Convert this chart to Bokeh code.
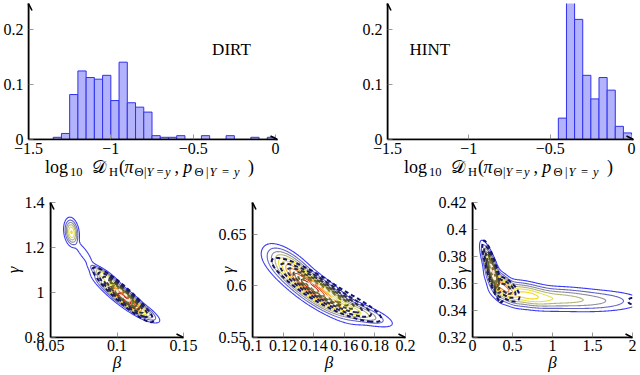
import numpy as np
from bokeh.plotting import figure
from bokeh.layouts import row, column
from bokeh.models import Range1d, FixedTicker, Label, Arrow, OpenHead, Div
from bokeh.embed import file_html
from bokeh.resources import INLINE

SERIF = "Liberation Serif"

# ---------------- histogram data ----------------
bin_width = 0.05
dirt_bin_left = [-1.35, -1.30, -1.25, -1.20, -1.15, -1.10, -1.05, -1.00, -0.95,
                 -0.90, -0.85, -0.80, -0.75, -0.70, -0.65, -0.60, -0.55, -0.50,
                 -0.45, -0.40, -0.35, -0.30, -0.25, -0.20, -0.15, -0.10, -0.05]
dirt_freq = [0.004, 0.011, 0.082, 0.125, 0.113, 0.110, 0.117, 0.071, 0.141,
             0.067, 0.059, 0.050, 0.007, 0.004, 0.004, 0.007, 0.0, 0.0,
             0.007, 0.0, 0.0, 0.007, 0.0, 0.0, 0.004, 0.0, 0.004]
hint_bin_left = [-0.45, -0.40, -0.35, -0.30, -0.25, -0.20, -0.15, -0.10, -0.05]
hint_freq = [0.039, 0.300, 0.219, 0.117, 0.074, 0.113, 0.090, 0.024, 0.012]

hist_xrange = (-1.5, 0.012)
hist_yrange = (0.0, 0.248)
hist_xticks = [-1.5, -1.0, -0.5, 0.0]
hist_xlabels = ["\u22121.5", "\u22121", "\u22120.5", "0"]
hist_yticks = [0.0, 0.1, 0.2]
hist_ylabels = ["0", "0.1", "0.2"]

# ---------------- contour panels ----------------
p1_xrange = (0.05, 0.15)
p1_yrange = (0.8, 1.4)
p1_xticks = [0.05, 0.10, 0.15]
p1_xlabels = ["0.05", "0.1", "0.15"]
p1_yticks = [0.8, 1.0, 1.2, 1.4]
p1_ylabels = ["0.8", "1", "1.2", "1.4"]

p2_xrange = (0.1, 0.2)
p2_yrange = (0.55, 0.681)
p2_xticks = [0.10, 0.12, 0.14, 0.16, 0.18, 0.20]
p2_xlabels = ["0.1", "0.12", "0.14", "0.16", "0.18", "0.2"]
p2_yticks = [0.55, 0.60, 0.65]
p2_ylabels = ["0.55", "0.6", "0.65"]

p3_xrange = (0.0, 2.0)
p3_yrange = (0.32, 0.42)
p3_xticks = [0.0, 0.5, 1.0, 1.5, 2.0]
p3_xlabels = ["0", "0.5", "1", "1.5", "2"]
p3_yticks = [0.32, 0.34, 0.36, 0.38, 0.40, 0.42]
p3_ylabels = ["0.32", "0.34", "0.36", "0.38", "0.4", "0.42"]

# density components:
# (weight, beta_mean, gamma_mean, beta_sd, gamma_sd, correlation)
p1_exact = [
    (0.45, 0.0658, 1.268, 0.0024, 0.027, -0.2),
    (0.05, 0.0750, 1.175, 0.0045, 0.035, -0.85),
    (0.40, 0.0905, 1.075, 0.0050, 0.022, -0.85),
    (1.00, 0.1035, 0.985, 0.0085, 0.040, -0.90),
    (0.40, 0.1160, 0.930, 0.0065, 0.025, -0.85),
]
p1_approx = [
    (1.00, 0.1045, 0.990, 0.0090, 0.048, -0.93),
]
p2_exact = [
    (1.00, 0.139, 0.598, 0.0115, 0.0125, -0.85),
    (0.40, 0.125, 0.619, 0.0070, 0.0090, -0.7),
    (0.35, 0.164, 0.577, 0.0115, 0.0070, -0.8),
]
p2_approx = [
    (1.00, 0.141, 0.600, 0.0115, 0.011, -0.88),
    (0.50, 0.158, 0.585, 0.0120, 0.009, -0.85),
]
p3_exact = [
    (1.00, 0.24, 0.370, 0.055, 0.0080, -0.8),
    (0.70, 0.38, 0.358, 0.090, 0.0055, -0.7),
    (0.45, 0.65, 0.352, 0.180, 0.0045, -0.4),
    (0.25, 1.05, 0.349, 0.280, 0.0040, -0.1),
    (0.12, 1.55, 0.347, 0.300, 0.0040, 0.0),
]
p3_approx = [
    (1.00, 0.25, 0.369, 0.050, 0.0090, -0.85),
    (0.35, 0.42, 0.356, 0.080, 0.0045, -0.6),
    (0.12, 1.99, 0.347, 0.030, 0.0015, 0.0),
]

exact_fracs = [0.02, 0.06, 0.12, 0.2, 0.3, 0.42, 0.55, 0.68, 0.8, 0.92]
exact_colors = ["#3a3af5", "#6464c8", "#8e8ea0", "#b4b478", "#e2e24a",
                "#f2d81e", "#f4a81e", "#ee7a28", "#dc4a1c", "#c01e10"]
approx_fracs = [0.04, 0.12, 0.25, 0.4, 0.55, 0.7, 0.85]
approx_colors = ["#12126e", "#1e1e58", "#30304a", "#4a4a32", "#62602a",
                 "#7c7632", "#f0f0e0"]


def mixture(xr, yr, comps, n=220):
    xs = np.linspace(xr[0], xr[1], n)
    ys = np.linspace(yr[0], yr[1], n)
    X, Y = np.meshgrid(xs, ys)
    Z = np.zeros_like(X)
    for w, mx, my, sx, sy, rho in comps:
        dx = (X - mx) / sx
        dy = (Y - my) / sy
        q = (dx * dx - 2 * rho * dx * dy + dy * dy) / (1 - rho * rho)
        Z += w * np.exp(-0.5 * q)
    return xs, ys, Z


def make_fig(width, height, xr, yr, left, right, top, bottom):
    p = figure(width=width, height=height, x_range=Range1d(*xr), y_range=Range1d(*yr),
               output_backend="svg", toolbar_location=None,
               min_border_left=left, min_border_right=right,
               min_border_top=top, min_border_bottom=bottom)
    p.xgrid.visible = False
    p.ygrid.visible = False
    p.outline_line_color = None
    p.background_fill_color = "white"
    p.border_fill_color = "white"
    return p


def style_axes(p, xr, yr, xt, xl, yt, yl, xstand, ystand):
    for ax, ticks, labels, st in ((p.xaxis[0], xt, xl, xstand), (p.yaxis[0], yt, yl, ystand)):
        ax.ticker = FixedTicker(ticks=ticks)
        ax.major_label_overrides = {t: l for t, l in zip(ticks, labels)}
        ax.minor_tick_line_color = None
        ax.major_tick_in = 5
        ax.major_tick_out = 0
        ax.major_tick_line_color = "#9a9a9a"
        ax.major_tick_line_width = 1
        ax.axis_line_color = "black"
        ax.axis_line_width = 1.6
        ax.major_label_text_font = SERIF
        ax.major_label_text_font_size = "16px"
        ax.major_label_text_color = "black"
        ax.major_label_standoff = st
    p.add_layout(Arrow(end=OpenHead(size=7, line_width=1.6, line_color="black"),
                       x_start=xr[0], y_start=yr[0], x_end=xr[1], y_end=yr[0],
                       line_width=1.6, line_color="black"))
    p.add_layout(Arrow(end=OpenHead(size=7, line_width=1.6, line_color="black"),
                       x_start=xr[0], y_start=yr[0], x_end=xr[0], y_end=yr[1],
                       line_width=1.6, line_color="black"))


# composite axis label  log10 D_H(pi_{Theta|Y=y}, p_{Theta|Y=y})
dh_parts = [
    ("log", 17.0, "main", "normal"),
    ("10", 42.0, "sub", "normal"),
    ("\U0001D49F", 64.0, "main", "normal"),
    ("H", 81.0, "sub", "normal"),
    ("(", 91.0, "main", "normal"),
    ("\u03c0", 96.5, "main", "italic"),
    ("\u0398", 106.5, "sub", "normal"),
    ("|", 116.0, "sub", "normal"),
    ("Y", 118.5, "sub", "italic"),
    ("=", 128.5, "sub", "normal"),
    ("y", 137.0, "sub", "italic"),
    (",", 146.5, "main", "normal"),
    ("p", 155.3, "main", "italic"),
    ("\u0398", 166.5, "sub", "normal"),
    ("|", 178.0, "sub", "normal"),
    ("Y", 181.5, "sub", "italic"),
    ("=", 194.0, "sub", "normal"),
    ("y", 206.0, "sub", "italic"),
    (")", 220.0, "main", "normal"),
]

HIST_W = 320
HIST_H = 161
HIST_TOP = 3
HIST_FRAME_H = 136
LABEL_H = 24
CONT_H = 190
CONT_TOP = 17
CONT_BOTTOM = 38


def dh_div(left):
    spans = []
    for text, rx, kind, style in dh_parts:
        x = left + rx
        if kind == "main":
            size, top = 18.0, -3.2
        else:
            size, top = 12.5, 5.3
        spans.append(
            '<span style="position:absolute;left:%.1fpx;top:%.1fpx;font-size:%.1fpx;'
            'line-height:%.1fpx;font-style:%s;white-space:nowrap;">%s</span>'
            % (x, top, size, size, style, text))
    html = ('<div style="position:relative;width:%dpx;height:%dpx;'
            'font-family:\'Liberation Serif\',serif;color:black;">%s</div>'
            % (HIST_W, LABEL_H, "".join(spans)))
    return Div(text=html, width=HIST_W, height=LABEL_H, margin=(0, 0, 0, 0))


def histogram(left_edges, freq, xr, yr, left, right, name, name_x):
    p = make_fig(HIST_W, HIST_H, xr, yr, left, right, HIST_TOP, HIST_H - HIST_TOP - HIST_FRAME_H)
    lefts = [l for l, f in zip(left_edges, freq) if f > 0]
    tops = [f for f in freq if f > 0]
    rights = [l + bin_width for l in lefts]
    p.quad(left=lefts, right=rights, bottom=0, top=tops,
           fill_color="#b3b3fb", line_color="#3030f0", line_width=1)
    style_axes(p, xr, yr, hist_xticks, hist_xlabels, hist_yticks, hist_ylabels, 3, 5)
    p.add_layout(Label(x=name_x, y=0.165, text=name, text_font=SERIF, text_font_size="17px",
                       text_baseline="middle", text_align="left", text_color="black"))
    return p


h1 = histogram(dirt_bin_left, dirt_freq, hist_xrange, hist_yrange, 28, 43, "DIRT", -0.385)
h2 = histogram(hint_bin_left, hint_freq, hist_xrange, hist_yrange, 67, 7, "HINT", -1.365)
d1 = dh_div(28)
d2 = dh_div(67)


def contour_panel(width, left, right, xr, yr, xt, xl, yt, yl, exact, approx, gamma_standoff):
    p = make_fig(width, CONT_H, xr, yr, left, right, CONT_TOP, CONT_BOTTOM)
    xs, ys, Z = mixture(xr, yr, exact)
    zmax = Z.max()
    p.contour(xs, ys, Z, [f * zmax for f in exact_fracs],
              line_color=exact_colors, line_width=1.1)
    xs, ys, Z2 = mixture(xr, yr, approx)
    zmax2 = Z2.max()
    p.contour(xs, ys, Z2, [f * zmax2 for f in approx_fracs],
              line_color=approx_colors, line_width=2.0, line_dash="4 3")
    style_axes(p, xr, yr, xt, xl, yt, yl, 2, 6)
    p.xaxis.axis_label = "\u03b2"
    p.yaxis.axis_label = "\u03b3"
    for ax in (p.xaxis[0], p.yaxis[0]):
        ax.axis_label_text_font = SERIF
        ax.axis_label_text_font_size = "17px"
        ax.axis_label_text_font_style = "italic"
        ax.axis_label_text_color = "black"
    p.xaxis.axis_label_standoff = -1
    p.yaxis.axis_label_standoff = gamma_standoff
    return p


c1 = contour_panel(210, 25, 27, p1_xrange, p1_yrange, p1_xticks, p1_xlabels,
                   p1_yticks, p1_ylabels, p1_exact, p1_approx, -1)
c2 = contour_panel(227, 42, 32, p2_xrange, p2_yrange, p2_xticks, p2_xlabels,
                   p2_yticks, p2_ylabels, p2_exact, p2_approx, -21)
c3 = contour_panel(203, 35, 8, p3_xrange, p3_yrange, p3_xticks, p3_xlabels,
                   p3_yticks, p3_ylabels, p3_exact, p3_approx, -35)

layout = column(row(h1, h2), row(d1, d2), row(c1, c2, c3))
open("out.html", "w").write(file_html(layout, INLINE))
